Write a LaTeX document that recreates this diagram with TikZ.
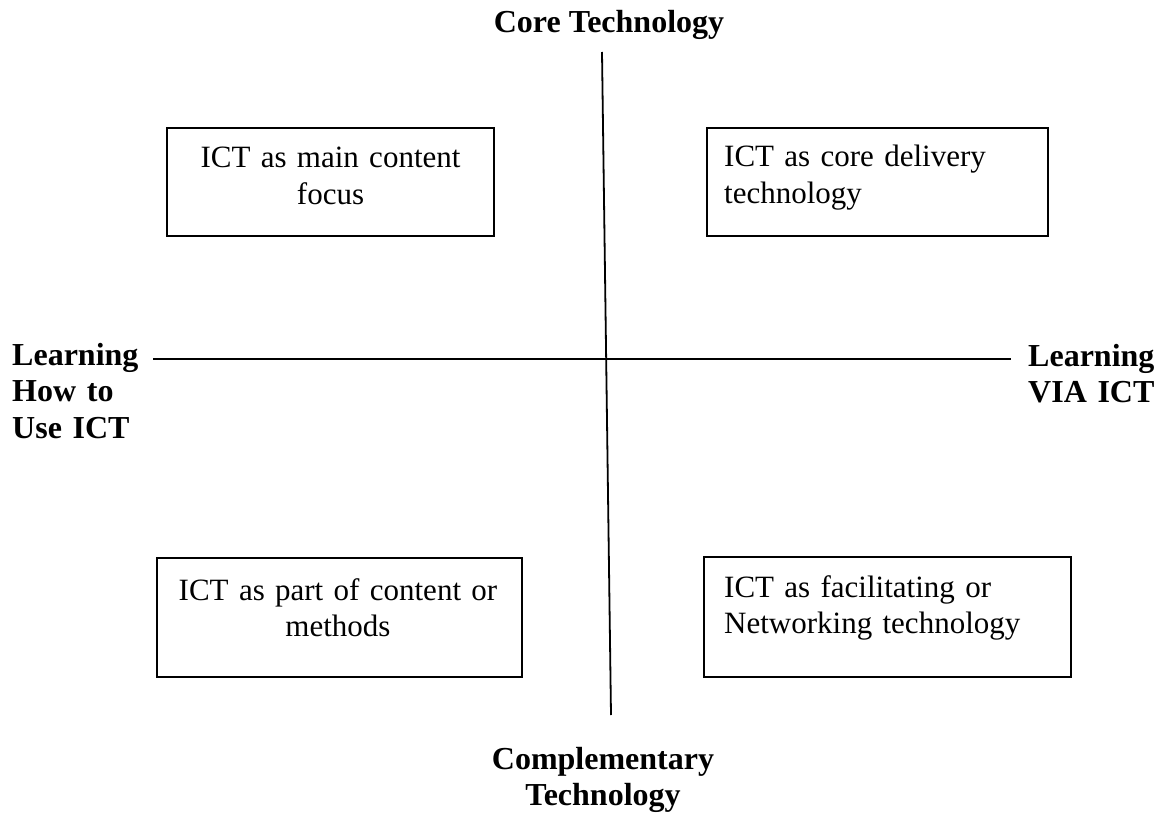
\documentclass[tikz,border=0pt]{standalone}
\usepackage{fontspec}
\setmainfont{Liberation Serif}
\begin{document}
\begin{tikzpicture}[x=1pt,y=-1pt,
  quadbox/.style={draw,line width=1.8pt,rectangle,inner sep=0pt},
  boxtext/.style={inner sep=0pt,font=\fontsize{31}{36.6}\selectfont},
  axislabel/.style={inner sep=0pt,font=\fontsize{32}{36.8}\selectfont\bfseries},
  axis/.style={line width=1.8pt}]
\useasboundingbox (0,0) rectangle (1157,813);

% axes
\coordinate (left) at (153,359);
\coordinate (right) at (1011,359);
\coordinate (top) at (602,52);
\coordinate (bottom) at (611,715);
\draw[axis] (left) -- (right);
\draw[axis] (top) -- (bottom);

% axis labels
\node[axislabel,anchor=base] (core) at (609,33) {Core Technology};
\node[axislabel,anchor=base,text width=260pt,align=center] (compl) at (603,769) {Complementary\\Technology};
\node[axislabel,anchor=base west,text width=170pt,align=left] (howto) at (12,365) {Learning\\How to\\Use ICT};
\node[axislabel,anchor=base west,text width=130pt,align=left] (via) at (1028,366) {Learning\\VIA ICT};

% quadrant boxes
\node[quadbox,minimum width=327pt,minimum height=108pt] (tl) at (330.5,182) {};
\node[quadbox,minimum width=341pt,minimum height=108pt] (tr) at (877.5,182) {};
\node[quadbox,minimum width=365pt,minimum height=119pt] (bl) at (339.5,617.5) {};
\node[quadbox,minimum width=367pt,minimum height=120pt] (br) at (887.5,617) {};

% box texts
\node[boxtext,anchor=base,text width=310pt,align=center] (tlt) at (330.5,168) {ICT as main content\\focus};
\node[boxtext,anchor=base west,text width=320pt,align=left] (trt) at (724,167) {ICT as core delivery\\technology};
\node[boxtext,anchor=base,text width=350pt,align=center] (blt) at (338,600) {ICT as part of content or\\methods};
\node[boxtext,anchor=base west,text width=340pt,align=left] (brt) at (724,597) {ICT as facilitating or\\Networking technology};
\end{tikzpicture}
\end{document}
